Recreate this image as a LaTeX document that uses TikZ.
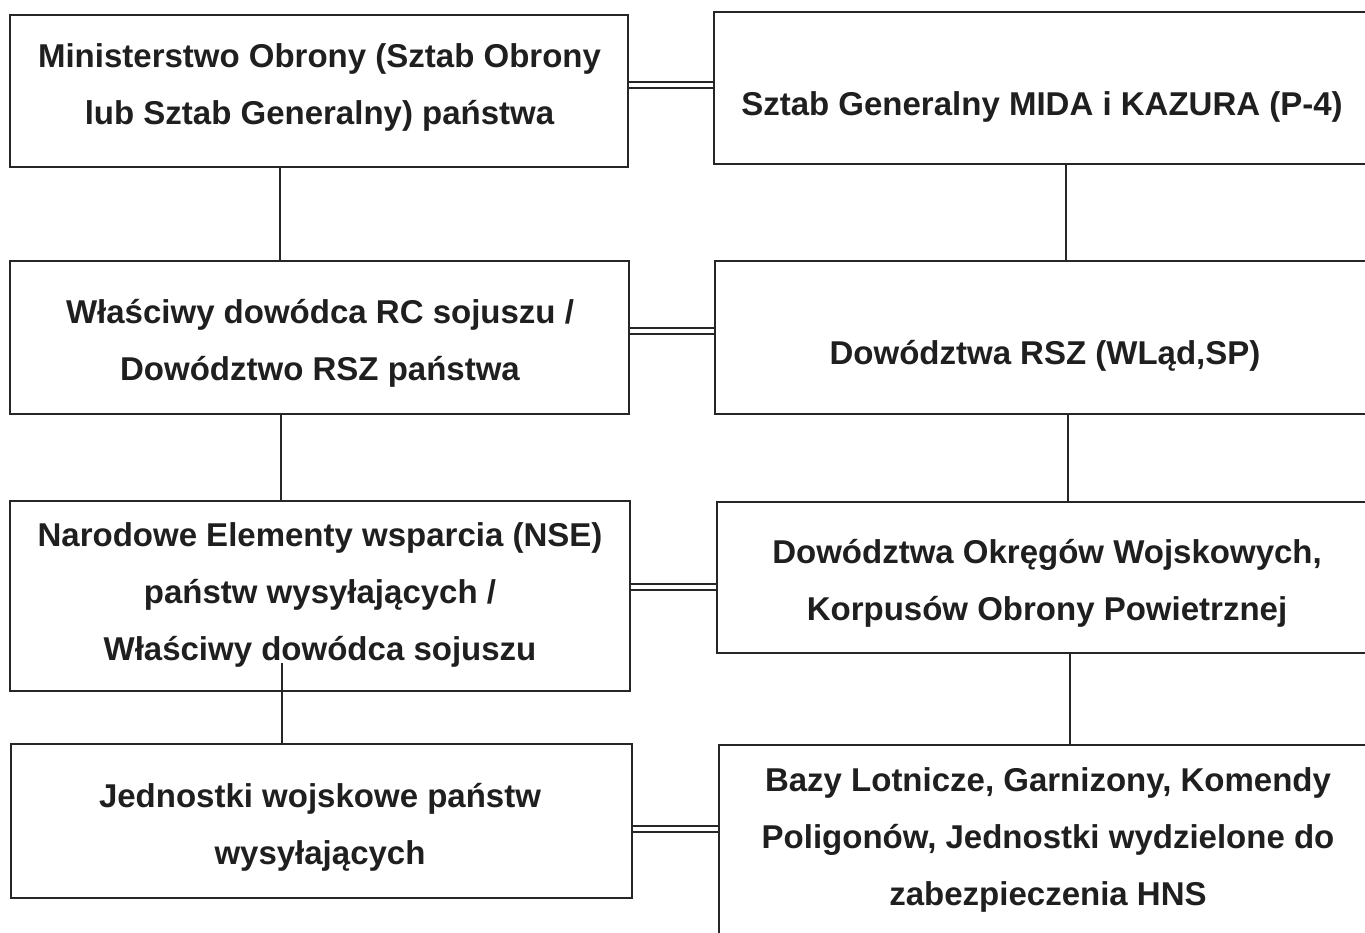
\documentclass[tikz,border=0pt]{standalone}
\usepackage{fontspec}
\setmainfont{Liberation Sans}
\newcommand\lnstrut{\rule[-16.5pt]{0pt}{57pt}}
\begin{document}
\begin{tikzpicture}[x=1pt,y=-1pt,
  box/.style={draw=black!85, line width=1.6pt, rectangle, inner sep=0pt},
  txt/.style={align=center, inner sep=0pt, font=\fontsize{33}{57}\selectfont\bfseries, text=black!88},
  conn/.style={draw=black!85, line width=1.3pt},
  dbl/.style={draw=black!85, line width=1.5pt, double=white, double distance=4.2pt}]
\useasboundingbox (0,0) rectangle (1365,932);
% boxes
\node[box, minimum width=618pt, minimum height=152pt] (l1) at (319,91) {};
\node[box, minimum width=660pt, minimum height=152pt] (r1) at (1044,88) {};
\node[box, minimum width=619pt, minimum height=153pt] (l2) at (319.5,337.5) {};
\node[box, minimum width=659pt, minimum height=153pt] (r2) at (1044.5,337.5) {};
\node[box, minimum width=620pt, minimum height=190pt] (l3) at (320,596) {};
\node[box, minimum width=657pt, minimum height=151pt] (r3) at (1045.5,577.5) {};
\node[box, minimum width=621pt, minimum height=154pt] (l4) at (321.5,821) {};
\node[box, minimum width=655pt, minimum height=195pt] (r4) at (1046.5,842.5) {};
% texts
\node[txt] (t1) at (319.5,83.5) {\lnstrut Ministerstwo Obrony (Sztab Obrony\\\lnstrut lub Sztab Generalny) państwa};
\node[txt] (u1) at (1042,103) {\lnstrut Sztab Generalny MIDA i KAZURA (P-4)};
\node[txt] (t2) at (320,339.5) {\lnstrut Właściwy dowódca RC sojuszu /\\\lnstrut Dowództwo RSZ państwa};
\node[txt] (u2) at (1045,352) {\lnstrut Dowództwa RSZ (WLąd,SP)};
\node[txt] (t3) at (320,591) {\lnstrut Narodowe Elementy wsparcia (NSE)\\\lnstrut państw wysyłających /\\\lnstrut Właściwy dowódca sojuszu};
\node[txt] (u3) at (1047,580) {\lnstrut Dowództwa Okręgów Wojskowych,\\\lnstrut Korpusów Obrony Powietrznej};
\node[txt] (t4) at (320,824) {\lnstrut Jednostki wojskowe państw\\\lnstrut wysyłających};
\node[txt] (u4) at (1048,836) {\lnstrut Bazy Lotnicze, Garnizony, Komendy\\\lnstrut Poligonów, Jednostki wydzielone do\\\lnstrut zabezpieczenia HNS};
% helper coordinates
\coordinate (h1) at (0,85);
\coordinate (h2) at (0,331);
\coordinate (h3) at (0,587);
\coordinate (h4) at (0,829);
\coordinate (vl1) at (280,0);
\coordinate (vl2) at (281,0);
\coordinate (vl3) at (282,663);
\coordinate (vr1) at (1066,0);
\coordinate (vr2) at (1068,0);
\coordinate (vr3) at (1070,0);
% double connectors
\draw[dbl] (l1.east |- h1) -- (r1.west |- h1);
\draw[dbl] (l2.east |- h2) -- (r2.west |- h2);
\draw[dbl] (l3.east |- h3) -- (r3.west |- h3);
\draw[dbl] (l4.east |- h4) -- (r4.west |- h4);
% vertical connectors
\draw[conn] (l1.south -| vl1) -- (l2.north -| vl1);
\draw[conn] (l2.south -| vl2) -- (l3.north -| vl2);
\draw[conn] (vl3) -- (l4.north -| vl3);
\draw[conn] (r1.south -| vr1) -- (r2.north -| vr1);
\draw[conn] (r2.south -| vr2) -- (r3.north -| vr2);
\draw[conn] (r3.south -| vr3) -- (r4.north -| vr3);
\end{tikzpicture}
\end{document}
